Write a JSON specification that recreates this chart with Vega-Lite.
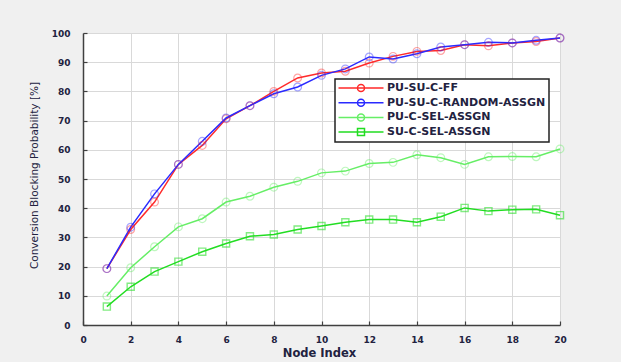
{
  "$schema": "https://vega.github.io/schema/vega-lite/v6.json",
  "autosize": "none",
  "width": 477,
  "height": 292,
  "padding": {"left": 83, "top": 33, "right": 61, "bottom": 37},
  "background": "#f0f0f0",
  "config": {
    "view": {"fill": "white", "stroke": "#a8a8a8", "strokeWidth": 1},
    "font": "DejaVu Sans",
    "axis": {
      "grid": true,
      "gridColor": "#d9d9d9",
      "gridWidth": 1,
      "domainColor": "#404040",
      "domainWidth": 1.5,
      "tickColor": "#404040",
      "tickSize": -4,
      "tickWidth": 1.2,
      "labelFont": "DejaVu Sans",
      "labelFontWeight": "bold",
      "labelFontSize": 9,
      "labelColor": "#222240",
      "labelFlush": false,
      "labelOverlap": false,
      "titleFont": "DejaVu Sans",
      "titleColor": "#222240"
    }
  },
  "datasets": {
    "series": [
      {"x": 1, "s": "PU-SU-C-FF", "v": 19.3},
      {"x": 2, "s": "PU-SU-C-FF", "v": 32.7},
      {"x": 3, "s": "PU-SU-C-FF", "v": 42.1},
      {"x": 4, "s": "PU-SU-C-FF", "v": 55.0},
      {"x": 5, "s": "PU-SU-C-FF", "v": 61.5},
      {"x": 6, "s": "PU-SU-C-FF", "v": 70.6},
      {"x": 7, "s": "PU-SU-C-FF", "v": 75.1},
      {"x": 8, "s": "PU-SU-C-FF", "v": 80.0},
      {"x": 9, "s": "PU-SU-C-FF", "v": 84.6},
      {"x": 10, "s": "PU-SU-C-FF", "v": 86.3},
      {"x": 11, "s": "PU-SU-C-FF", "v": 86.9},
      {"x": 12, "s": "PU-SU-C-FF", "v": 89.7},
      {"x": 13, "s": "PU-SU-C-FF", "v": 92.0},
      {"x": 14, "s": "PU-SU-C-FF", "v": 93.7},
      {"x": 15, "s": "PU-SU-C-FF", "v": 94.0},
      {"x": 16, "s": "PU-SU-C-FF", "v": 96.0},
      {"x": 17, "s": "PU-SU-C-FF", "v": 95.6},
      {"x": 18, "s": "PU-SU-C-FF", "v": 96.6},
      {"x": 19, "s": "PU-SU-C-FF", "v": 97.1},
      {"x": 20, "s": "PU-SU-C-FF", "v": 98.3},
      {"x": 1, "s": "PU-SU-C-RANDOM-ASSGN", "v": 19.3},
      {"x": 2, "s": "PU-SU-C-RANDOM-ASSGN", "v": 33.5},
      {"x": 3, "s": "PU-SU-C-RANDOM-ASSGN", "v": 44.9},
      {"x": 4, "s": "PU-SU-C-RANDOM-ASSGN", "v": 55.0},
      {"x": 5, "s": "PU-SU-C-RANDOM-ASSGN", "v": 62.9},
      {"x": 6, "s": "PU-SU-C-RANDOM-ASSGN", "v": 70.9},
      {"x": 7, "s": "PU-SU-C-RANDOM-ASSGN", "v": 75.1},
      {"x": 8, "s": "PU-SU-C-RANDOM-ASSGN", "v": 79.2},
      {"x": 9, "s": "PU-SU-C-RANDOM-ASSGN", "v": 81.5},
      {"x": 10, "s": "PU-SU-C-RANDOM-ASSGN", "v": 85.5},
      {"x": 11, "s": "PU-SU-C-RANDOM-ASSGN", "v": 87.7},
      {"x": 12, "s": "PU-SU-C-RANDOM-ASSGN", "v": 91.8},
      {"x": 13, "s": "PU-SU-C-RANDOM-ASSGN", "v": 91.1},
      {"x": 14, "s": "PU-SU-C-RANDOM-ASSGN", "v": 92.9},
      {"x": 15, "s": "PU-SU-C-RANDOM-ASSGN", "v": 95.2},
      {"x": 16, "s": "PU-SU-C-RANDOM-ASSGN", "v": 96.0},
      {"x": 17, "s": "PU-SU-C-RANDOM-ASSGN", "v": 96.8},
      {"x": 18, "s": "PU-SU-C-RANDOM-ASSGN", "v": 96.6},
      {"x": 19, "s": "PU-SU-C-RANDOM-ASSGN", "v": 97.5},
      {"x": 20, "s": "PU-SU-C-RANDOM-ASSGN", "v": 98.3},
      {"x": 1, "s": "PU-C-SEL-ASSGN", "v": 9.9},
      {"x": 2, "s": "PU-C-SEL-ASSGN", "v": 19.6},
      {"x": 3, "s": "PU-C-SEL-ASSGN", "v": 26.8},
      {"x": 4, "s": "PU-C-SEL-ASSGN", "v": 33.6},
      {"x": 5, "s": "PU-C-SEL-ASSGN", "v": 36.4},
      {"x": 6, "s": "PU-C-SEL-ASSGN", "v": 42.1},
      {"x": 7, "s": "PU-C-SEL-ASSGN", "v": 44.1},
      {"x": 8, "s": "PU-C-SEL-ASSGN", "v": 47.2},
      {"x": 9, "s": "PU-C-SEL-ASSGN", "v": 49.2},
      {"x": 10, "s": "PU-C-SEL-ASSGN", "v": 52.1},
      {"x": 11, "s": "PU-C-SEL-ASSGN", "v": 52.7},
      {"x": 12, "s": "PU-C-SEL-ASSGN", "v": 55.3},
      {"x": 13, "s": "PU-C-SEL-ASSGN", "v": 55.7},
      {"x": 14, "s": "PU-C-SEL-ASSGN", "v": 58.3},
      {"x": 15, "s": "PU-C-SEL-ASSGN", "v": 57.3},
      {"x": 16, "s": "PU-C-SEL-ASSGN", "v": 55.0},
      {"x": 17, "s": "PU-C-SEL-ASSGN", "v": 57.6},
      {"x": 18, "s": "PU-C-SEL-ASSGN", "v": 57.7},
      {"x": 19, "s": "PU-C-SEL-ASSGN", "v": 57.6},
      {"x": 20, "s": "PU-C-SEL-ASSGN", "v": 60.3},
      {"x": 1, "s": "SU-C-SEL-ASSGN", "v": 6.3},
      {"x": 2, "s": "SU-C-SEL-ASSGN", "v": 13.1},
      {"x": 3, "s": "SU-C-SEL-ASSGN", "v": 18.3},
      {"x": 4, "s": "SU-C-SEL-ASSGN", "v": 21.7},
      {"x": 5, "s": "SU-C-SEL-ASSGN", "v": 25.1},
      {"x": 6, "s": "SU-C-SEL-ASSGN", "v": 27.9},
      {"x": 7, "s": "SU-C-SEL-ASSGN", "v": 30.4},
      {"x": 8, "s": "SU-C-SEL-ASSGN", "v": 31.0},
      {"x": 9, "s": "SU-C-SEL-ASSGN", "v": 32.7},
      {"x": 10, "s": "SU-C-SEL-ASSGN", "v": 33.9},
      {"x": 11, "s": "SU-C-SEL-ASSGN", "v": 35.2},
      {"x": 12, "s": "SU-C-SEL-ASSGN", "v": 36.1},
      {"x": 13, "s": "SU-C-SEL-ASSGN", "v": 36.1},
      {"x": 14, "s": "SU-C-SEL-ASSGN", "v": 35.2},
      {"x": 15, "s": "SU-C-SEL-ASSGN", "v": 37.1},
      {"x": 16, "s": "SU-C-SEL-ASSGN", "v": 40.1},
      {"x": 17, "s": "SU-C-SEL-ASSGN", "v": 39.0},
      {"x": 18, "s": "SU-C-SEL-ASSGN", "v": 39.5},
      {"x": 19, "s": "SU-C-SEL-ASSGN", "v": 39.6},
      {"x": 20, "s": "SU-C-SEL-ASSGN", "v": 37.6}
    ]
  },
  "data": {"name": "series"},
  "encoding": {
    "x": {
      "field": "x", "type": "quantitative",
      "scale": {"domain": [0, 20], "nice": false, "zero": false},
      "axis": {
        "values": [0, 2, 4, 6, 8, 10, 12, 14, 16, 18, 20],
        "format": "d",
        "labelPadding": 14,
        "title": "Node Index",
        "titleFontSize": 11.5,
        "titleFontWeight": "bold",
        "titleX": 236,
        "titleY": 31.5,
        "titleBaseline": "alphabetic",
        "titleAlign": "center"
      }
    },
    "y": {
      "field": "v", "type": "quantitative",
      "scale": {"domain": [0, 100], "nice": false},
      "axis": {
        "values": [0, 10, 20, 30, 40, 50, 60, 70, 80, 90, 100],
        "format": "d",
        "labelPadding": 17,
        "title": "Conversion Blocking Probability [%]",
        "titleFontSize": 10.5,
        "titleFontWeight": "normal",
        "titleX": -49,
        "titleY": 142,
        "titleAngle": -90,
        "titleBaseline": "middle",
        "titleAlign": "center"
      }
    },
    "color": {
      "field": "s", "type": "nominal",
      "sort": ["PU-SU-C-FF", "PU-SU-C-RANDOM-ASSGN", "PU-C-SEL-ASSGN", "SU-C-SEL-ASSGN"],
      "scale": {
        "domain": ["PU-SU-C-FF", "PU-SU-C-RANDOM-ASSGN", "PU-C-SEL-ASSGN", "SU-C-SEL-ASSGN"],
        "range": ["#ff2a2a", "#2a2aff", "#66ee66", "#22dd22"]
      },
      "legend": {
        "orient": "none",
        "legendX": 252,
        "legendY": 46,
        "title": null,
        "padding": 3,
        "fillColor": "white",
        "strokeColor": "#222222",
        "symbolSize": 100,
        "symbolOffset": 17,
        "symbolStrokeWidth": 1.5,
        "symbolFillColor": "transparent",
        "labelOffset": 20,
        "labelFont": "DejaVu Sans",
        "labelFontWeight": "bold",
        "labelFontSize": 11,
        "labelColor": "#222240",
        "labelLimit": 300,
        "rowPadding": 0.7,
        "encode": {
          "legend": {
            "update": {
              "strokeWidth": {"value": 1.5}
            }
          },
          "symbols": {
            "update": {
              "shape": {"signal": "datum.value === 'SU-C-SEL-ASSGN' ? 'M-4.5,0H4.5M-0.7,-0.7H0.7V0.7H-0.7Z' : 'M-4.5,0H4.5M0.7,0A0.7,0.7,0,1,1,-0.7,0A0.7,0.7,0,1,1,0.7,0'"},
              "fill": {"value": "transparent"}
            }
          }
        }
      }
    }
  },
  "layer": [
    {
      "mark": {"type": "line", "strokeWidth": 1.5}
    },
    {
      "transform": [{"filter": "datum.s !== 'SU-C-SEL-ASSGN'"}],
      "mark": {"type": "point", "shape": "circle", "filled": false, "strokeWidth": 1.2, "strokeOpacity": 0.6, "size": 60}
    },
    {
      "transform": [{"filter": "datum.s === 'SU-C-SEL-ASSGN'"}],
      "mark": {"type": "point", "shape": "square", "filled": false, "strokeWidth": 1.4, "strokeOpacity": 0.8, "size": 50}
    }
  ]
}
